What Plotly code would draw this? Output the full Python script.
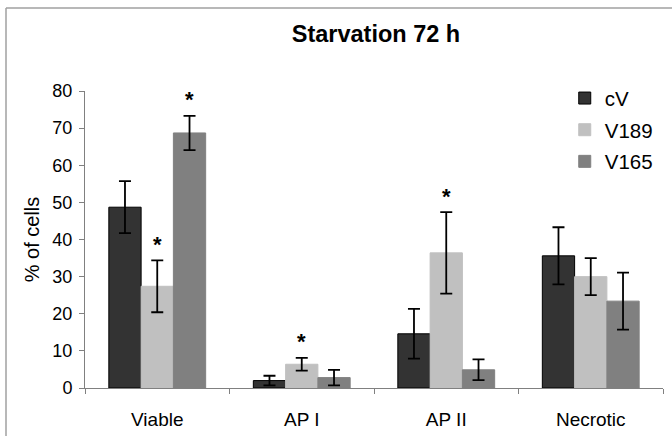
import plotly.graph_objects as go

categories = ["Viable", "AP I", "AP II", "Necrotic"]
series_names = ["cV", "V189", "V165"]
cV = [48.7, 2.0, 14.6, 35.6]
cV_err = [7.0, 1.3, 6.7, 7.7]
V189 = [27.4, 6.4, 36.4, 30.0]
V189_err = [7.0, 1.7, 11.0, 5.0]
V165 = [68.7, 2.8, 4.9, 23.4]
V165_err = [4.6, 2.1, 2.8, 7.7]
sig_cV = [False, False, False, False]
sig_V189 = [True, True, True, False]
sig_V165 = [True, False, False, False]
y_ticks = [0, 10, 20, 30, 40, 50, 60, 70, 80]

W, H = 672, 436
L, R, T, B = 85, 9, 91, 48
BARGAP = 0.33
pw = W - L - R
ph = H - T - B

fills = ["#333333", "#c0c0c0", "#808080"]
lines = ["#000000", "#c0c0c0", "#808080"]
values = [cV, V189, V165]
errs = [cV_err, V189_err, V165_err]
sigs = [sig_cV, sig_V189, sig_V165]

fig = go.Figure()
for i, name in enumerate(series_names):
    fig.add_trace(go.Bar(
        name=name, x=categories, y=values[i],
        marker=dict(color=fills[i], line=dict(color=lines[i], width=1)),
        error_y=dict(type="data", array=errs[i], visible=True,
                     color="#000000", thickness=1.8, width=6),
        legendgroup=name,
    ))

cat_w = pw / len(categories)
bar_w = cat_w * (1 - BARGAP) / len(series_names)
for i in range(len(series_names)):
    for j, c in enumerate(categories):
        if sigs[i][j]:
            fig.add_annotation(
                x=c, y=values[i][j] + errs[i][j], xref="x", yref="y",
                text="<b>*</b>", showarrow=False, yanchor="middle",
                xshift=(i - 1) * bar_w, yshift=16,
                font=dict(size=22, color="#000000", family="Liberation Sans"))

fig.update_layout(
    width=W, height=H,
    margin=dict(l=L, r=R, t=T, b=B, autoexpand=False),
    paper_bgcolor="white", plot_bgcolor="white",
    barmode="group", bargap=BARGAP, bargroupgap=0,
    font=dict(family="Liberation Sans", color="#000000"),
    title=dict(text="<b>Starvation 72 h</b>", x=376 / W, xref="container",
               xanchor="center", y=1 - 34 / H, yanchor="middle",
               font=dict(size=23.5, family="Liberation Sans", color="#000000")),
    legend=dict(x=0.83, y=1.043, xanchor="left", yanchor="top",
                font=dict(size=20.5), bgcolor="rgba(0,0,0,0)",
                tracegroupgap=2, itemwidth=30),
    showlegend=True,
)
fig.update_xaxes(
    type="category", showline=True, linecolor="#808080", linewidth=1,
    ticks="outside", tickson="boundaries", ticklen=5, tickcolor="#808080",
    tickfont=dict(size=19), showgrid=False, ticklabelstandoff=14, automargin=False,
)
fig.update_yaxes(
    range=[0, 80], tickvals=y_ticks, showline=True, linecolor="#808080",
    linewidth=1, ticks="outside", ticklen=5, tickcolor="#808080",
    tickfont=dict(size=18), showgrid=False, zeroline=False, ticklabelstandoff=3,
    automargin=False,
    title=dict(text="% of cells", font=dict(size=20), standoff=7),
)

# outer frame (top and left edges visible)
fx0 = (6 - L) / pw
fy1 = (H - B - 8) / ph
fig.add_shape(type="line", xref="paper", yref="paper", x0=fx0, x1=(W - L) / pw + 0.05,
              y0=fy1, y1=fy1, line=dict(color="#a0a0a0", width=1.5))
fig.add_shape(type="line", xref="paper", yref="paper", x0=fx0, x1=fx0,
              y0=-B / ph - 0.05, y1=fy1, line=dict(color="#a0a0a0", width=1.5))

fig.write_html("out.html", config={"displayModeBar": False},
               post_script="document.body.style.margin='0';document.body.style.overflow='hidden';")
